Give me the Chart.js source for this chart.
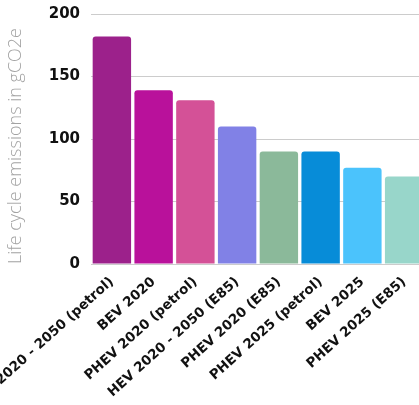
<!DOCTYPE html>
<html>
<head>
<meta charset="utf-8">
<script src="https://cdn.jsdelivr.net/npm/chart.js@4.4.1/dist/chart.umd.min.js"></script>
<style>
    html, body { margin: 0; padding: 0; background: #fff; overflow: hidden; }
    #wrap { position: absolute; left: 0; top: 0; width: 425px; height: 405px; }
</style>
</head>
<body>
<div id="wrap"><canvas id="emissions" width="425" height="405"></canvas></div>
<script>
    "use strict";

    // Life cycle emissions per vehicle type
    const categories = [
        "HEV 2020 - 2050 (petrol)",
        "BEV 2020",
        "PHEV 2020 (petrol)",
        "HEV 2020 - 2050 (E85)",
        "PHEV 2020 (E85)",
        "PHEV 2025 (petrol)",
        "BEV 2025",
        "PHEV 2025 (E85)"
    ];
    const emissions = [182, 139, 131, 110, 90, 90, 77, 70];
    const barColors = ["#9c218b", "#b9119b", "#d45197", "#8181e6", "#8bb99a", "#078cd8", "#4bc3fc", "#98d6ca"];
    const yTicks = [0, 50, 100, 150, 200];

    const tickFont = { family: "DejaVu Sans", weight: "bold", size: 15 };
    const labelFont = { family: "DejaVu Sans", weight: "bold", size: 13.5 };

    new Chart(document.getElementById("emissions").getContext("2d"), {
        type: "bar",
        data: {
            labels: categories,
            datasets: [{
                data: emissions,
                backgroundColor: barColors,
                borderRadius: { topLeft: 3, topRight: 3 },
                borderSkipped: "bottom",
                barPercentage: 0.92,
                categoryPercentage: 1.0
            }]
        },
        options: {
            responsive: false,
            animation: false,
            layout: { padding: { top: 14, left: 0, right: 0, bottom: 0 } },
            plugins: { legend: { display: false }, tooltip: { enabled: false } },
            scales: {
                x: {
                    grid: { display: false },
                    border: { display: false },
                    ticks: {
                        color: "#111",
                        font: labelFont,
                        autoSkip: false,
                        minRotation: 42,
                        maxRotation: 42,
                        padding: 2
                    },
                    afterFit: function (scale) {
                        scale.height = 141;
                        scale.paddingLeft = 0;
                        scale.paddingRight = 0;
                    }
                },
                y: {
                    min: yTicks[0],
                    max: yTicks[yTicks.length - 1],
                    afterBuildTicks: function (scale) {
                        scale.ticks = yTicks.map(v => ({ value: v }));
                    },
                    grid: { color: "#cccccc", lineWidth: 1, drawTicks: false },
                    border: { display: false },
                    ticks: { color: "#111", font: tickFont, padding: 11 },
                    title: {
                        display: true,
                        text: "Life cycle emissions in gCO2e",
                        color: "#a3a3a3",
                        align: "start",
                        font: { family: "Open Sans", weight: 300, size: 18 },
                        padding: { top: 5, bottom: 0 }
                    },
                    afterFit: function (scale) {
                        scale.width = 91;
                        scale.paddingTop = 0;
                        scale.paddingBottom = 0;
                    }
                }
            }
        }
    });
</script>
</body>
</html>
